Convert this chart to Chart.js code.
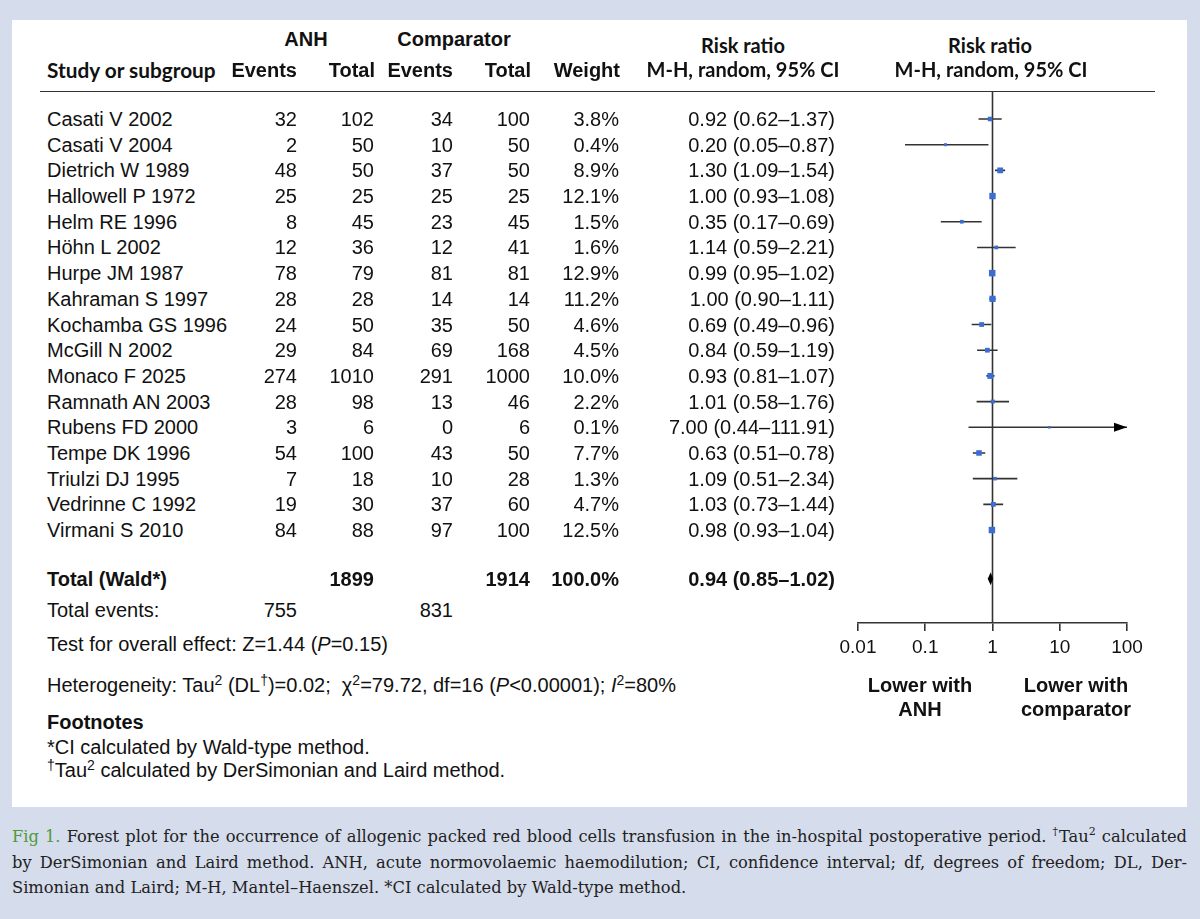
<!DOCTYPE html>
<html>
<head>
<meta charset="utf-8">
<script src="https://cdn.jsdelivr.net/npm/chart.js@4.4.1/dist/chart.umd.min.js"></script>
<style>
  html, body { margin: 0; padding: 0; }
  body { width: 1200px; height: 919px; background: #d5dcec; overflow: hidden;
         font-family: "Liberation Sans", Arial, sans-serif; color: #111; }
  #page { position: relative; width: 1200px; height: 919px; }
  #panel { position: absolute; left: 12px; top: 20px; width: 1175px; height: 787px; background: #fff; }
  .t { position: absolute; font-size: 20px; line-height: 26px; white-space: nowrap; }
  .b { font-weight: bold; }
  .hum { font-family: Lato, "Open Sans", sans-serif; font-weight: bold; }
  #rule { position: absolute; left: 40px; top: 91px; width: 1115px; border-top: 1.5px solid #333; }
  #plot { position: absolute; left: 820px; top: 80px; width: 360px; height: 600px; }
  sup { font-size: 14px; line-height: 0; vertical-align: 7px; }
  #caption { position: absolute; left: 12px; top: 824px; width: 1175px;
             font-family: "DejaVu Serif", serif; font-size: 16.3px; line-height: 25.5px; color: #222; }
  #caption .ln { display: block; white-space: nowrap; text-align: justify; text-align-last: justify; }
  #caption .ln.last { text-align-last: left; }
  #caption .fig { color: #4e9a3a; }
  #caption sup { font-size: 11px; vertical-align: 7px; }
</style>
</head>
<body>
<div id="page">
  <div id="panel"></div>
  <div id="rule"></div>
  <div id="plot"><canvas id="forest"></canvas></div>
  <div id="caption">
    <span class="ln"><span class="fig">Fig 1.</span> Forest plot for the occurrence of allogenic packed red blood cells transfusion in the in-hospital postoperative period. <sup>†</sup>Tau<sup>2</sup> calculated</span>
    <span class="ln">by DerSimonian and Laird method. ANH, acute normovolaemic haemodilution; CI, confidence interval; df, degrees of freedom; DL, Der-</span>
    <span class="ln last">Simonian and Laird; M-H, Mantel–Haenszel. *CI calculated by Wald-type method.</span>
  </div>
</div>
<script>
// study rows
const studies = ['Casati V 2002', 'Casati V 2004', 'Dietrich W 1989', 'Hallowell P 1972', 'Helm RE 1996',
  'Höhn L 2002', 'Hurpe JM 1987', 'Kahraman S 1997', 'Kochamba GS 1996', 'McGill N 2002',
  'Monaco F 2025', 'Ramnath AN 2003', 'Rubens FD 2000', 'Tempe DK 1996', 'Triulzi DJ 1995',
  'Vedrinne C 1992', 'Virmani S 2010'];
const anhEvents = [32, 2, 48, 25, 8, 12, 78, 28, 24, 29, 274, 28, 3, 54, 7, 19, 84];
const anhTotal = [102, 50, 50, 25, 45, 36, 79, 28, 50, 84, 1010, 98, 6, 100, 18, 30, 88];
const compEvents = [34, 10, 37, 25, 23, 12, 81, 14, 35, 69, 291, 13, 0, 43, 10, 37, 97];
const compTotal = [100, 50, 50, 25, 45, 41, 81, 14, 50, 168, 1000, 46, 6, 50, 28, 60, 100];
const weights = [3.8, 0.4, 8.9, 12.1, 1.5, 1.6, 12.9, 11.2, 4.6, 4.5, 10.0, 2.2, 0.1, 7.7, 1.3, 4.7, 12.5];
const riskRatio = [0.92, 0.20, 1.30, 1.00, 0.35, 1.14, 0.99, 1.00, 0.69, 0.84, 0.93, 1.01, 7.00, 0.63, 1.09, 1.03, 0.98];
const ciLower = [0.62, 0.05, 1.09, 0.93, 0.17, 0.59, 0.95, 0.90, 0.49, 0.59, 0.81, 0.58, 0.44, 0.51, 0.51, 0.73, 0.93];
const ciUpper = [1.37, 0.87, 1.54, 1.08, 0.69, 2.21, 1.02, 1.11, 0.96, 1.19, 1.07, 1.76, 111.91, 0.78, 2.34, 1.44, 1.04];

// pooled result
const totalAnh = 1899, totalComp = 1914, totalWeight = 100.0;
const totalEventsAnh = 755, totalEventsComp = 831;
const totalRR = 0.94, totalLower = 0.85, totalUpper = 1.02;

// x axis
const tickValues = [0.01, 0.1, 1, 10, 100];
const tickLabels = ['0.01', '0.1', '1', '10', '100'];

// layout (page pixels)
const ROW0 = 119, ROWH = 25.69, TOTAL_ROW = 17.9;
const PLOT_TOP = 92, PLOT_BOTTOM = 623;
const rowY = i => ROW0 + i * ROWH;

const page = document.getElementById('page');
function txt(html, x, y, align, cls) {
  const d = document.createElement('div');
  d.className = 't ' + (cls || '');
  d.innerHTML = html;
  d.style.top = (y - 13) + 'px';
  if (align === 'right') d.style.right = (1200 - x) + 'px';
  else d.style.left = x + 'px';
  if (align === 'center') d.style.transform = 'translateX(-50%)';
  page.appendChild(d);
  return d;
}
const fmtCI = (r, l, u) => r.toFixed(2) + ' (' + l.toFixed(2) + '–' + u.toFixed(2) + ')';

// headers
txt('ANH', 306, 39, 'center', 'b');
txt('Comparator', 454, 39, 'center', 'b');
txt('Risk ratio', 743, 45, 'center', 'hum');
txt('M-H, random, 95% CI', 743, 69, 'center', 'hum');
txt('Risk ratio', 990, 45, 'center', 'hum');
txt('M-H, random, 95% CI', 991, 69, 'center', 'hum');
txt('Study or subgroup', 47, 70, 'left', 'hum').style.fontSize = '20.8px';
txt('Events', 297, 70, 'right', 'b');
txt('Total', 375, 70, 'right', 'b');
txt('Events', 453, 70, 'right', 'b');
txt('Total', 531, 70, 'right', 'b');
txt('Weight', 620, 70, 'right', 'b');

// study rows
studies.forEach((s, i) => {
  const y = rowY(i);
  txt(s, 47, y, 'left');
  txt(anhEvents[i], 297, y, 'right');
  txt(anhTotal[i], 374, y, 'right');
  txt(compEvents[i], 453, y, 'right');
  txt(compTotal[i], 530, y, 'right');
  txt(weights[i].toFixed(1) + '%', 619, y, 'right');
  txt(fmtCI(riskRatio[i], ciLower[i], ciUpper[i]), 835, y, 'right');
});

// totals and notes
const yT = rowY(TOTAL_ROW);
txt('Total (Wald*)', 47, yT, 'left', 'b');
txt(totalAnh, 374, yT, 'right', 'b');
txt(totalComp, 530, yT, 'right', 'b');
txt(totalWeight.toFixed(1) + '%', 619, yT, 'right', 'b');
txt(fmtCI(totalRR, totalLower, totalUpper), 835, yT, 'right', 'b');
txt('Total events:', 47, 610, 'left');
txt(totalEventsAnh, 297, 610, 'right');
txt(totalEventsComp, 453, 610, 'right');
txt('Test for overall effect: Z=1.44 (<i>P</i>=0.15)', 47, 644, 'left');
txt('Heterogeneity: Tau<sup>2</sup> (DL<sup>†</sup>)=0.02;&nbsp; χ<sup>2</sup>=79.72, df=16 (<i>P</i>&lt;0.00001); <i>I</i><sup>2</sup>=80%', 47, 685, 'left');
txt('Footnotes', 47, 722, 'left', 'b');
txt('*CI calculated by Wald-type method.', 47, 747, 'left');
txt('<sup>†</sup>Tau<sup>2</sup> calculated by DerSimonian and Laird method.', 47, 770, 'left');
txt('Lower with', 920, 685, 'center', 'b');
txt('ANH', 920, 709, 'center', 'b');
txt('Lower with', 1076, 685, 'center', 'b');
txt('comparator', 1076, 709, 'center', 'b');

// chart data
const pointData = riskRatio.map((r, i) => ({ x: r, y: i }));
const pointSizes = weights.map(w => (2.2 + Math.sqrt(w) * 1.2) / Math.SQRT2);
const ciData = [];
studies.forEach((s, i) => {
  ciData.push({ x: ciLower[i], y: i }, { x: ciUpper[i], y: i }, { x: ciUpper[i], y: null });
});

const forestExtras = {
  id: 'forestExtras',
  beforeDatasetsDraw(chart) {
    const { ctx, chartArea, scales } = chart;
    const x1 = scales.x.getPixelForValue(1);
    ctx.save();
    ctx.strokeStyle = '#333';
    ctx.lineWidth = 1.6;
    ctx.beginPath();
    ctx.moveTo(x1, chartArea.top);
    ctx.lineTo(x1, chartArea.bottom);
    ctx.stroke();
    ctx.restore();
  },
  afterDatasetsDraw(chart) {
    const { ctx, chartArea, scales } = chart;
    ctx.save();
    ctx.fillStyle = '#000';
    // arrows for intervals running past the axis
    ciUpper.forEach((u, i) => {
      if (u <= scales.x.max) return;
      const y = scales.y.getPixelForValue(i);
      const tip = chartArea.right;
      ctx.beginPath();
      ctx.moveTo(tip, y);
      ctx.lineTo(tip - 13, y - 4.5);
      ctx.lineTo(tip - 13, y + 4.5);
      ctx.closePath();
      ctx.fill();
    });
    // pooled estimate diamond
    const yd = scales.y.getPixelForValue(TOTAL_ROW);
    ctx.beginPath();
    ctx.moveTo(scales.x.getPixelForValue(totalLower), yd);
    ctx.lineTo(scales.x.getPixelForValue(totalRR), yd - 6.5);
    ctx.lineTo(scales.x.getPixelForValue(totalUpper), yd);
    ctx.lineTo(scales.x.getPixelForValue(totalRR), yd + 6.5);
    ctx.closePath();
    ctx.fill();
    ctx.restore();
  }
};

new Chart(document.getElementById('forest'), {
  type: 'scatter',
  data: {
    datasets: [
      {
        label: 'Risk ratio',
        data: pointData,
        pointStyle: 'rect',
        pointRadius: pointSizes,
        backgroundColor: '#3b6dd3',
        borderWidth: 0
      },
      {
        type: 'line',
        label: '95% CI',
        data: ciData,
        borderColor: '#333',
        borderWidth: 1.6,
        pointRadius: 0,
        spanGaps: false
      }
    ]
  },
  options: {
    responsive: true,
    maintainAspectRatio: false,
    animation: false,
    layout: { padding: { left: 38, right: 53, top: PLOT_TOP - 80, bottom: 17 } },
    scales: {
      x: {
        type: 'logarithmic',
        min: tickValues[0],
        max: tickValues[tickValues.length - 1],
        afterBuildTicks: axis => { axis.ticks = tickValues.map(v => ({ value: v })); },
        afterFit: axis => { axis.height = 40; },
        border: { display: true, color: '#333', width: 1.6 },
        grid: { display: true, drawOnChartArea: false, drawTicks: true, tickLength: 8, color: '#333', lineWidth: 1.6 },
        ticks: {
          autoSkip: false,
          maxRotation: 0,
          padding: 5,
          color: '#111',
          font: { family: '"Liberation Sans", Arial, sans-serif', size: 19 },
          callback: (v, i) => tickLabels[i]
        }
      },
      y: {
        type: 'linear',
        display: false,
        reverse: true,
        min: (PLOT_TOP - ROW0) / ROWH,
        max: (PLOT_BOTTOM - ROW0) / ROWH
      }
    },
    plugins: {
      legend: { display: false },
      tooltip: { enabled: false }
    }
  },
  plugins: [forestExtras]
});
</script>
</body>
</html>
